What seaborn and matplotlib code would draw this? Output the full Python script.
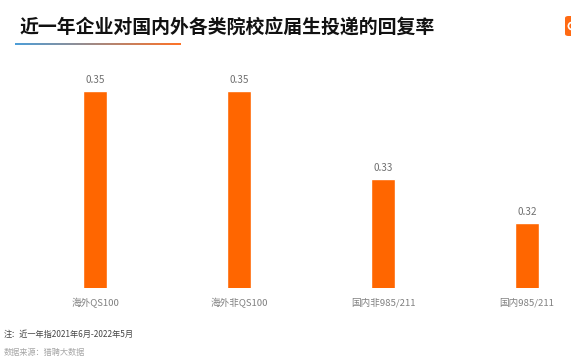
import numpy as np
import pandas as pd
import seaborn as sns
import matplotlib.pyplot as plt
from matplotlib.patches import FancyBboxPatch, Circle

# school groups and reply rate
schools = ['海外QS100', '海外非QS100', '国内非985/211', '国内985/211']
rates = [0.35, 0.35, 0.33, 0.32]

title = '近一年企业对国内外各类院校应届生投递的回复率'
note = '注：近一年指2021年6月-2022年5月'
source = '数据来源：猎聘大数据'

sns.set_theme(style='white')
plt.rcParams['font.family'] = ['Noto Sans CJK SC', 'DejaVu Sans']

W, H = 571, 361
fig = plt.figure(figsize=(W / 100, H / 100), dpi=100)
ax = fig.add_axes([36 / W, 1 - 288 / H, (W - 36) / W, 230 / H])

df = pd.DataFrame({'school': schools, 'rate': rates})
sns.barplot(data=df, x='school', y='rate', color='#ff6600', saturation=1, width=0.167, ax=ax)
ax.set_xlim(-0.413, 3.307)
ax.set_ylim(0.3052, 0.3052 + 230 / 4400)
ax.set_xlabel(''); ax.set_ylabel('')
ax.set_yticks([])
ax.tick_params(axis='x', length=0, pad=7, labelsize=6.9, labelcolor='#808080')
sns.despine(ax=ax, left=True, bottom=True)
ax.bar_label(ax.containers[0], fmt='%.2f', padding=4, fontsize=7.2, color='#707070')

# title and underline
fig.text(20 / W, 1 - 27.5 / H, title, fontsize=13.6, fontweight='bold', color='#111111', va='center')
grad = np.linspace(0, 1, 256).reshape(1, -1, 1)
blue = np.array([0.30, 0.62, 0.85]); orange = np.array([1.0, 0.45, 0.15])
bar = fig.add_axes([15 / W, 1 - 44.8 / H, 165 / W, 1.5 / H])
bar.imshow(blue + (orange - blue) * grad, aspect='auto')
bar.axis('off')

# footnotes
fig.text(4 / W, 1 - 334 / H, note, fontsize=5.9, color='#444444', va='center')
fig.text(4 / W, 1 - 353 / H, source, fontsize=5.9, color='#a6a6a6', va='center')

# logo cut off at the right edge
fig.add_artist(FancyBboxPatch((565 / W, 1 - 36 / H), 12 / W, 20 / H, boxstyle='round,pad=0,rounding_size=0.006',
                              transform=fig.transFigure, fc='#ff6a13', ec='none'))
logo = fig.add_axes([560 / W, 1 - 36 / H, 20 / W, 20 / H])
logo.set_zorder(5)
logo.set_xlim(560, 580); logo.set_ylim(36, 16); logo.axis('off')
logo.add_patch(Circle((572, 26), 3.6, fc='none', ec='white', lw=1.2))

fig.savefig('out.png', dpi=100)
